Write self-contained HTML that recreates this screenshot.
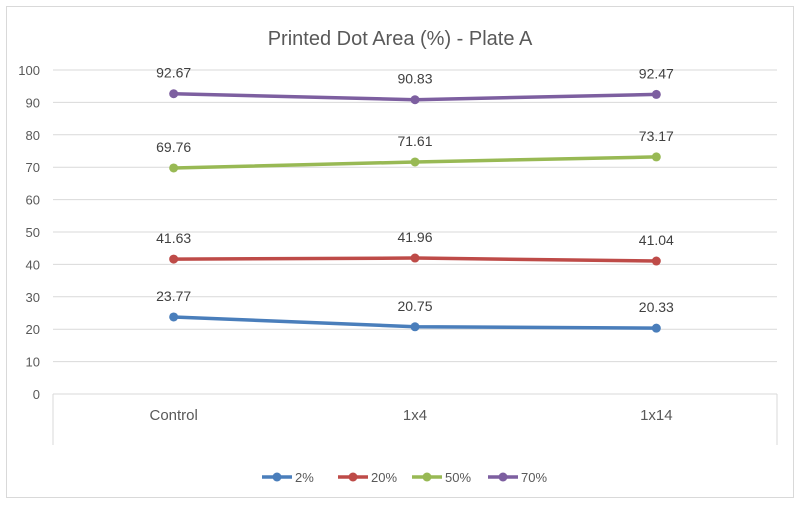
<!DOCTYPE html>
<html><head><meta charset="utf-8"><style>
body{margin:0;background:#fff;}
svg{display:block;font-family:"Liberation Sans",sans-serif;}
</style></head><body>
<svg id="c" width="800" height="505">
<rect x="6.5" y="6.5" width="787" height="491" fill="#fff" stroke="#d9d9d9"/>
<text x="400" y="45" text-anchor="middle" font-size="20" fill="#595959">Printed Dot Area (%) - Plate A</text>
</svg>
<script>
const categories=["Control","1x4","1x14"];
const seriesNames=["2%","20%","50%","70%"];
const s2=[23.77,20.75,20.33];
const s20=[41.63,41.96,41.04];
const s50=[69.76,71.61,73.17];
const s70=[92.67,90.83,92.47];
const yTicks=[0,10,20,30,40,50,60,70,80,90,100];
const colors=["#4a7ebb","#be4b48","#98b954","#7d5fa0"];
const allSeries=[s2,s20,s50,s70];
const svg=document.getElementById('c');
const NS="http://www.w3.org/2000/svg";
const L=53,R=777,T=70,B=394;
const y=v=>B-(v/100)*(B-T);
const x=i=>L+(i+0.5)*(R-L)/categories.length;
function mk(t,a){const e=document.createElementNS(NS,t);for(const k in a)e.setAttribute(k,a[k]);svg.appendChild(e);return e;}
yTicks.forEach(t=>{
 const g=mk('line',{x1:L,x2:R,y1:y(t),y2:y(t),stroke:'#d9d9d9','stroke-width':1});
 
 
 const tx=mk('text',{x:40,y:y(t)+5,'text-anchor':'end','font-size':13,fill:'#595959'});
 tx.textContent=t;
 
 
});
[L,R].forEach((xx,i)=>{
 const l=mk('line',{x1:xx,x2:xx,y1:B,y2:445,stroke:'#d9d9d9'});
 
 
});
categories.forEach((c,i)=>{
 const t=mk('text',{x:x(i),y:420,'text-anchor':'middle','font-size':15,fill:'#595959'});
 t.textContent=c;
 
 
});
allSeries.forEach((s,si)=>{
 const p=mk('polyline',{points:s.map((v,i)=>x(i)+','+y(v)).join(' '),fill:'none',stroke:colors[si],'stroke-width':3.5});
 
 
 s.forEach((v,i)=>{
  const c=mk('circle',{cx:x(i),cy:y(v),r:4.5,fill:colors[si]});
  
  
  const t=mk('text',{x:x(i),y:y(v)-16,'text-anchor':'middle','font-size':14,fill:'#404040'});
  t.textContent=v.toFixed(2);
  
  
 });
});
const lx=[262,338,412,488];
seriesNames.forEach((n,i)=>{
 const l=mk('line',{x1:lx[i],x2:lx[i]+30,y1:477,y2:477,stroke:colors[i],'stroke-width':3.5});
 
 
 const c=mk('circle',{cx:lx[i]+15,cy:477,r:4.5,fill:colors[i]});
 
 
 const t=mk('text',{x:lx[i]+33,y:482,'font-size':13,fill:'#595959'});
 t.textContent=n;
 
 
});
</script>
</body></html>
